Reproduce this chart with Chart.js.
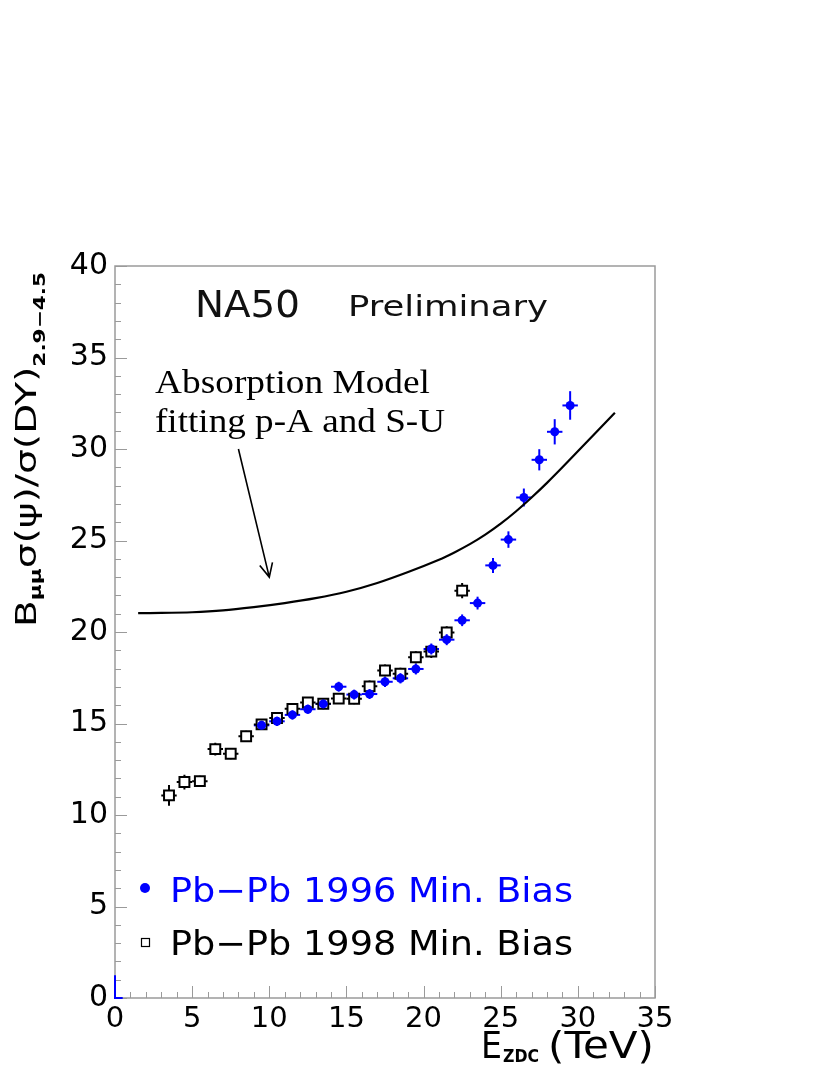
<!DOCTYPE html>
<html>
<head>
<meta charset="utf-8">
<script src="https://cdn.jsdelivr.net/npm/chart.js@4"></script>
<style>
  html, body { margin: 0; padding: 0; background: #fff; }
  #wrap { width: 830px; height: 1075px; }
</style>
</head>
<body>
<div id="wrap"><canvas id="ratioChart" width="830" height="1075"></canvas></div>
<script>
// Pb-Pb 1996 minimum bias (blue dots)
const eZdc96 = [9.5, 10.5, 11.5, 12.5, 13.5, 14.5, 15.5, 16.5, 17.5, 18.5, 19.5,
                20.5, 21.5, 22.5, 23.5, 24.5, 25.5, 26.5, 27.5, 28.5, 29.5];
const ratio96 = [14.9, 15.12, 15.47, 15.78, 16.07, 17.01, 16.58, 16.61, 17.28, 17.47, 17.98,
                 19.07, 19.58, 20.64, 21.58, 23.64, 25.05, 27.35, 29.41, 30.94, 32.38];
const err96 = [0.25, 0.25, 0.25, 0.25, 0.25, 0.27, 0.27, 0.27, 0.28, 0.28, 0.3,
               0.3, 0.3, 0.32, 0.35, 0.41, 0.45, 0.49, 0.58, 0.69, 0.78];

// Pb-Pb 1998 minimum bias (open squares)
const eZdc98 = [3.5, 4.5, 5.5, 6.5, 7.5, 8.5, 9.5, 10.5, 11.5, 12.5,
                13.5, 14.5, 15.5, 16.5, 17.5, 18.5, 19.5, 20.5, 21.5, 22.5];
const ratio98 = [11.07, 11.8, 11.85, 13.6, 13.35, 14.3, 14.95, 15.3, 15.8, 16.15,
                 16.08, 16.36, 16.35, 17.03, 17.9, 17.72, 18.62, 18.93, 19.97, 22.26];
const err98 = [0.57, 0.4, 0.3, 0.35, 0.3, 0.3, 0.3, 0.3, 0.3, 0.3,
               0.3, 0.3, 0.3, 0.32, 0.32, 0.33, 0.33, 0.35, 0.35, 0.42];

const binHalfWidth = 0.5;

// absorption model curve
const modelE = [1.5, 3, 5, 7, 9, 11, 13, 15, 17, 19, 21, 22, 23, 24, 25,
                26, 27, 28, 29, 30, 31, 32.4];
const modelRatio = [21.03, 21.04, 21.08, 21.18, 21.36, 21.58, 21.85, 22.2, 22.68, 23.28,
                    23.95, 24.35, 24.8, 25.32, 25.92, 26.6, 27.35, 28.15, 29.0, 29.88,
                    30.75, 31.98];

// small blue stub at the origin
const stubE = [0, 0, 0.5];
const stubRatio = [1.25, 0, 0];

const xTicks = [0, 5, 10, 15, 20, 25, 30, 35];
const yTicks = [0, 5, 10, 15, 20, 25, 30, 35, 40];

const BLUE = '#0000ff';
const FRAME = '#9a9a9a';

const toPoints = (xs, ys) => xs.map((x, i) => ({ x: x, y: ys[i] }));

// draw a string squeezed/stretched to a given width
function fitText(ctx, str, x, y, font, width, color) {
    ctx.save();
    ctx.font = font;
    const w = ctx.measureText(str).width;
    ctx.translate(x, y);
    ctx.scale(width / w, 1);
    ctx.fillStyle = color;
    ctx.textAlign = 'left';
    ctx.textBaseline = 'alphabetic';
    ctx.fillText(str, 0, 0);
    ctx.restore();
}

// draw a segment from a to b, leaving out the part closer than gap to c
function gappedSegment(ctx, a, b, c, gap) {
    if (gap <= 0) {
        ctx.moveTo(a, 0); ctx.lineTo(b, 0);
        return;
    }
    if (a < c - gap) { ctx.moveTo(a, 0); ctx.lineTo(c - gap, 0); }
    if (b > c + gap) { ctx.moveTo(c + gap, 0); ctx.lineTo(b, 0); }
}

const framePlugin = {
    id: 'framePlugin',
    beforeDatasetsDraw(chart) {
        const ctx = chart.ctx;
        const a = chart.chartArea;
        const xs = chart.scales.x, ys = chart.scales.y;
        ctx.save();
        ctx.strokeStyle = FRAME;
        ctx.lineWidth = 1.5;
        ctx.strokeRect(a.left, a.top, a.right - a.left, a.bottom - a.top);
        ctx.beginPath();
        for (let v = ys.min; v <= ys.max; v++) {
            const py = Math.round(ys.getPixelForValue(v)) + 0.5;
            const len = v % 5 === 0 ? 12 : 6;
            ctx.moveTo(a.left, py);
            ctx.lineTo(a.left + len, py);
        }
        for (let v = xs.min; v <= xs.max; v++) {
            const px = Math.round(xs.getPixelForValue(v)) + 0.5;
            const len = v % 5 === 0 ? 12 : 6;
            ctx.moveTo(px, a.bottom);
            ctx.lineTo(px, a.bottom - len);
        }
        ctx.lineWidth = 1;
        ctx.stroke();

        // error bars, stopped at the marker edge for open markers
        ctx.beginPath();
        ctx.rect(a.left, a.top, a.right - a.left, a.bottom - a.top);
        ctx.clip();
        chart.data.datasets.forEach(ds => {
            if (!ds.yErr) return;
            const gap = ds.errGap || 0;
            ctx.strokeStyle = ds.errColor;
            ctx.lineWidth = 2;
            ds.data.forEach((p, i) => {
                const px = xs.getPixelForValue(p.x);
                const py = ys.getPixelForValue(p.y);
                const xl = xs.getPixelForValue(p.x - binHalfWidth);
                const xr = xs.getPixelForValue(p.x + binHalfWidth);
                const yt = ys.getPixelForValue(p.y + ds.yErr[i]);
                const yb = ys.getPixelForValue(p.y - ds.yErr[i]);
                ctx.save();
                ctx.translate(0, py);
                ctx.beginPath();
                gappedSegment(ctx, xl, xr, px, gap);
                ctx.stroke();
                ctx.restore();
                ctx.save();
                ctx.translate(px, 0);
                ctx.rotate(Math.PI / 2);
                ctx.beginPath();
                gappedSegment(ctx, yt, yb, py, gap);
                ctx.stroke();
                ctx.restore();
            });
        });
        ctx.restore();
    },
    afterDraw(chart) {
        const ctx = chart.ctx;
        const xs = chart.scales.x, ys = chart.scales.y;
        ctx.save();

        // header
        fitText(ctx, 'NA50', 195, 317, '37px "DejaVu Sans"', 105, '#111');
        fitText(ctx, 'Preliminary', 348, 316, '29px "DejaVu Sans"', 200, '#111');

        // model annotation
        fitText(ctx, 'Absorption Model', 155, 393, '33px "Liberation Serif"', 275, '#000');
        fitText(ctx, 'fitting p-A and S-U', 155, 432, '33px "Liberation Serif"', 290, '#000');

        // arrow
        const x0 = xs.getPixelForValue(8), y0 = ys.getPixelForValue(30);
        const x1 = xs.getPixelForValue(10), y1 = ys.getPixelForValue(23);
        ctx.strokeStyle = '#000';
        ctx.lineWidth = 1.6;
        ctx.beginPath();
        ctx.moveTo(x0, y0);
        ctx.lineTo(x1, y1);
        const ang = Math.atan2(y1 - y0, x1 - x0);
        const head = 15, spread = 0.45;
        ctx.moveTo(x1 - head * Math.cos(ang - spread), y1 - head * Math.sin(ang - spread));
        ctx.lineTo(x1, y1);
        ctx.lineTo(x1 - head * Math.cos(ang + spread), y1 - head * Math.sin(ang + spread));
        ctx.stroke();

        // legend
        ctx.fillStyle = BLUE;
        ctx.beginPath();
        ctx.arc(145, 888, 5, 0, Math.PI * 2);
        ctx.fill();
        fitText(ctx, 'Pb\u2212Pb 1996 Min. Bias', 170, 902, '34px "DejaVu Sans"', 403, BLUE);
        ctx.strokeStyle = '#000';
        ctx.lineWidth = 1.2;
        ctx.strokeRect(141.5, 938.5, 8, 8);
        fitText(ctx, 'Pb\u2212Pb 1998 Min. Bias', 170, 955, '34px "DejaVu Sans"', 403, '#000');

        // x axis title
        fitText(ctx, 'E', 481, 1058, '38px "DejaVu Sans"', 21, '#000');
        fitText(ctx, 'ZDC', 503, 1062, 'bold 18px "DejaVu Sans"', 36, '#000');
        fitText(ctx, '(TeV)', 548, 1058, '38px "DejaVu Sans"', 106, '#000');

        // y axis title, rotated, reading bottom to top
        const pieces = [
            { t: 'B', f: '29px "DejaVu Sans"', dy: 0 },
            { t: '\u03bc\u03bc', f: 'bold 16px "DejaVu Sans"', dy: 5 },
            { t: '\u03c3(\u03c8)/\u03c3(DY)', f: '29px "DejaVu Sans"', dy: 0 },
            { t: '2.9\u22124.5', f: 'bold 16px "DejaVu Sans"', dy: 9 }
        ];
        let total = 0;
        pieces.forEach(p => { ctx.font = p.f; p.w = ctx.measureText(p.t).width; total += p.w; });
        const s = 355 / total;
        ctx.translate(36, 627);
        ctx.rotate(-Math.PI / 2);
        let cx = 0;
        pieces.forEach(p => {
            fitText(ctx, p.t, cx, p.dy, p.f, p.w * s, '#000');
            cx += p.w * s;
        });
        ctx.restore();
    }
};

const ctx = document.getElementById('ratioChart').getContext('2d');
const ratioChart = new Chart(ctx, {
    type: 'scatter',
    data: {
        datasets: [
            {
                label: 'Pb-Pb 1996 Min. Bias',
                data: toPoints(eZdc96, ratio96),
                yErr: err96,
                errColor: BLUE,
                errGap: 0,
                pointStyle: 'circle',
                pointRadius: 4.5,
                backgroundColor: BLUE,
                borderColor: BLUE,
                borderWidth: 0
            },
            {
                label: 'Pb-Pb 1998 Min. Bias',
                data: toPoints(eZdc98, ratio98),
                yErr: err98,
                errColor: '#000',
                errGap: 5,
                pointStyle: 'rect',
                pointRadius: 7,
                backgroundColor: 'rgba(0,0,0,0)',
                borderColor: '#000',
                borderWidth: 2
            },
            {
                type: 'line',
                label: 'Absorption Model',
                data: toPoints(modelE, modelRatio),
                borderColor: '#000',
                borderWidth: 2.2,
                pointRadius: 0,
                fill: false,
                tension: 0.25
            },
            {
                type: 'line',
                label: 'stub',
                data: toPoints(stubE, stubRatio),
                borderColor: BLUE,
                borderWidth: 2,
                pointRadius: 0,
                fill: false,
                clip: false
            }
        ]
    },
    plugins: [framePlugin],
    options: {
        responsive: false,
        animation: false,
        devicePixelRatio: 1,
        layout: { padding: { left: 0, top: 266, right: 175, bottom: 0 } },
        plugins: {
            legend: { display: false },
            tooltip: { enabled: false },
            title: { display: false }
        },
        scales: {
            x: {
                type: 'linear',
                min: 0,
                max: 35,
                afterBuildTicks: scale => { scale.ticks = xTicks.map(v => ({ value: v })); },
                afterFit: scale => { scale.height = 77; },
                grid: { display: false, drawTicks: false },
                border: { display: false },
                ticks: {
                    font: { family: 'DejaVu Sans', size: 29 },
                    color: '#000',
                    padding: 4,
                    maxRotation: 0,
                    autoSkip: false
                }
            },
            y: {
                type: 'linear',
                min: 0,
                max: 40,
                afterBuildTicks: scale => { scale.ticks = yTicks.map(v => ({ value: v })); },
                afterFit: scale => { scale.width = 115; },
                grid: { display: false, drawTicks: false },
                border: { display: false },
                ticks: {
                    font: { family: 'DejaVu Sans', size: 30 },
                    color: '#000',
                    padding: 7,
                    autoSkip: false
                }
            }
        }
    }
});
</script>
</body>
</html>
